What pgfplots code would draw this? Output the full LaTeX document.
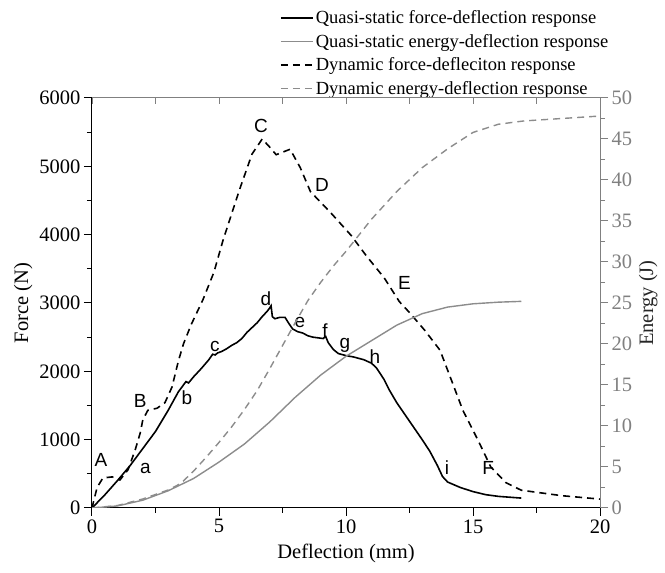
\documentclass[border=0pt]{standalone}
\usepackage{pgfplots}
\pgfplotsset{compat=1.18}
\usepackage{fontspec}
\setmainfont{Liberation Serif}
\newfontfamily\lettersf{Liberation Sans}
\definecolor{engray}{RGB}{140,140,140}
\definecolor{axgray}{RGB}{128,128,128}

% quasi-static force (N) vs deflection (mm)
\pgfplotstableread{
x F
0 0
0.5 190
1.0 400
1.5 620
2.0 870
2.5 1120
3.0 1430
3.4 1700
3.6 1800
3.7 1850
3.8 1830
4.0 1920
4.3 2040
4.6 2170
4.75 2250
4.85 2240
4.95 2270
5.1 2290
5.3 2330
5.5 2380
5.7 2420
5.9 2480
6.1 2570
6.3 2640
6.5 2710
6.7 2800
6.9 2880
7.0 2930
7.05 2960
7.1 2800
7.2 2770
7.4 2790
7.6 2790
7.75 2700
7.9 2620
8.1 2580
8.3 2560
8.5 2520
8.7 2500
8.9 2490
9.1 2480
9.2 2510
9.3 2420
9.5 2320
9.7 2260
10.0 2230
10.3 2210
10.7 2170
11.0 2120
11.2 2050
11.5 1880
11.7 1730
12.0 1540
12.5 1270
13.0 1000
13.3 830
13.6 620
13.8 460
14.0 380
14.5 300
15.0 240
15.5 195
16.0 170
16.9 145
}\qsforce

% dynamic force (N)
\pgfplotstableread{
x F
0 0
0.2 300
0.43 440
0.8 455
1.1 410
1.42 560
1.7 850
1.9 1100
2.0 1290
2.2 1430
2.56 1460
2.87 1540
3.15 1770
3.4 2150
3.6 2400
3.9 2680
4.37 3050
4.8 3450
5.16 3920
5.8 4650
6.3 5180
6.7 5400
7.0 5280
7.25 5170
7.8 5250
8.2 4980
8.6 4630
9.4 4320
10.2 3990
10.8 3690
11.5 3370
12.1 3020
12.5 2860
13.1 2600
13.7 2310
14.1 1920
14.6 1430
15.2 990
15.7 600
16.3 370
16.9 260
17.5 230
18.5 180
20 130
}\dynforce

% quasi-static energy (J)
\pgfplotstableread{
x E
0 0
1 0.25
2 0.95
3 2.1
4 3.6
5 5.6
6 7.8
7 10.5
8 13.5
9 16.2
10 18.5
11 20.4
12 22.3
13 23.7
14 24.5
15 24.9
16 25.1
16.9 25.2
}\qsenergy

% dynamic energy (J)
\pgfplotstableread{
x E
0 0
1 0.3
2 1.1
3 2.2
3.5 3.0
4 4.5
4.5 6.2
5 8.0
5.5 9.9
6 12.0
6.5 14.3
7 17.0
7.5 19.8
8 22.6
8.5 25.3
9 27.5
9.5 29.5
10 31.3
11 35.2
12 38.6
13 41.5
14 43.8
15 45.8
16 46.8
17 47.2
18 47.4
19 47.6
20 47.8
}\dynenergy

\tikzset{
  lab/.style={font=\lettersf\fontsize{19}{21}\selectfont, inner sep=0pt},
  qsf/.style={black, line width=1.6pt},
  dyf/.style={black, line width=1.6pt, dash pattern=on 7pt off 5pt},
  qse/.style={engray, line width=1.4pt},
  dye/.style={engray, line width=1.4pt, dash pattern=on 7pt off 5pt},
}
\pgfplotsset{
  base/.style={scale only axis, width=508pt, height=410pt, xmin=0, xmax=20,
    /pgf/number format/assume math mode=true,
    tick label style={font=\fontsize{20.5}{23}\selectfont},
    label style={font=\fontsize{20.5}{24}\selectfont},
    major tick length=8pt, minor tick length=5pt},
}

\begin{document}
\begin{tikzpicture}
% force axis (left / bottom)
\begin{axis}[base, ymin=0, ymax=6000,
  axis x line*=bottom, axis y line*=left, tick align=outside,
  xtick={0,5,...,20}, minor xtick={2.5,7.5,12.5,17.5},
  ytick={0,1000,...,6000}, minor ytick={500,1500,...,5500},
  scaled y ticks=false, yticklabel style={/pgf/number format/1000 sep={}},
  xlabel={Deflection (mm)}, ylabel={Force (N)},
  xlabel style={yshift=-4pt},
  axis line style={-, line width=1pt, black},
  every tick/.style={line width=1pt, black},
  legend style={at={(0.37,1.0)}, anchor=south west, draw=none, fill=none,
    font=\fontsize{18.5}{22}\selectfont, row sep=5pt, inner sep=0pt},
  legend cell align=left,
  legend image code/.code={\draw[#1] (0pt,0pt) -- (32pt,0pt);},
]
\coordinate (bl) at (rel axis cs:0,0);
\coordinate (tr) at (rel axis cs:1,1);
\addplot[qsf] table {\qsforce};
\addlegendentry{Quasi-static force-deflection response}
\addlegendimage{qse}
\addlegendentry{Quasi-static energy-deflection response}
\addplot[dyf] table {\dynforce};
\addlegendentry{Dynamic force-defleciton response}
\addlegendimage{dye}
\addlegendentry{Dynamic energy-deflection response}

\node[lab] at (axis cs:0.35,700) {A};
\node[lab] at (axis cs:2.1,585) {a};
\node[lab] at (axis cs:1.9,1560) {B};
\node[lab] at (axis cs:3.74,1610) {b};
\node[lab] at (axis cs:4.84,2370) {c};
\node[lab] at (axis cs:6.65,5590) {C};
\node[lab] at (axis cs:6.85,3060) {d};
\node[lab] at (axis cs:9.05,4730) {D};
\node[lab] at (axis cs:8.19,2720) {e};
\node[lab] at (axis cs:9.17,2600) {f};
\node[lab] at (axis cs:9.96,2386) {g};
\node[lab] at (axis cs:11.14,2210) {h};
\node[lab] at (axis cs:12.3,3294) {E};
\node[lab] at (axis cs:13.98,585) {i};
\node[lab] at (axis cs:15.6,585) {F};
\end{axis}

% energy axis (right)
\begin{axis}[base, ymin=0, ymax=50,
  axis x line=none, axis y line*=right, tick align=outside,
  ytick={0,5,...,50}, minor ytick={2.5,7.5,...,47.5},
  ylabel={Energy (J)}, ylabel style={black!85},
  axis line style={-, line width=1pt, axgray},
  yticklabel style={axgray},
  every tick/.style={line width=1pt, axgray},
]
\addplot[qse] table {\qsenergy};
\addplot[dye] table {\dynenergy};
\end{axis}

% top frame
\begin{axis}[base, ymin=0, ymax=1,
  axis y line=none, axis x line*=top, tick align=inside,
  xtick={0,2.5,...,20}, xticklabels={},
  major tick length=6pt,
  axis line style={-, line width=1pt, axgray},
  every tick/.style={line width=1pt, axgray},
]
\end{axis}
% margins as in the reference
\path (bl) ++(-92pt,-65pt);
\path (tr) ++(65pt,98pt);
\end{tikzpicture}
\end{document}
